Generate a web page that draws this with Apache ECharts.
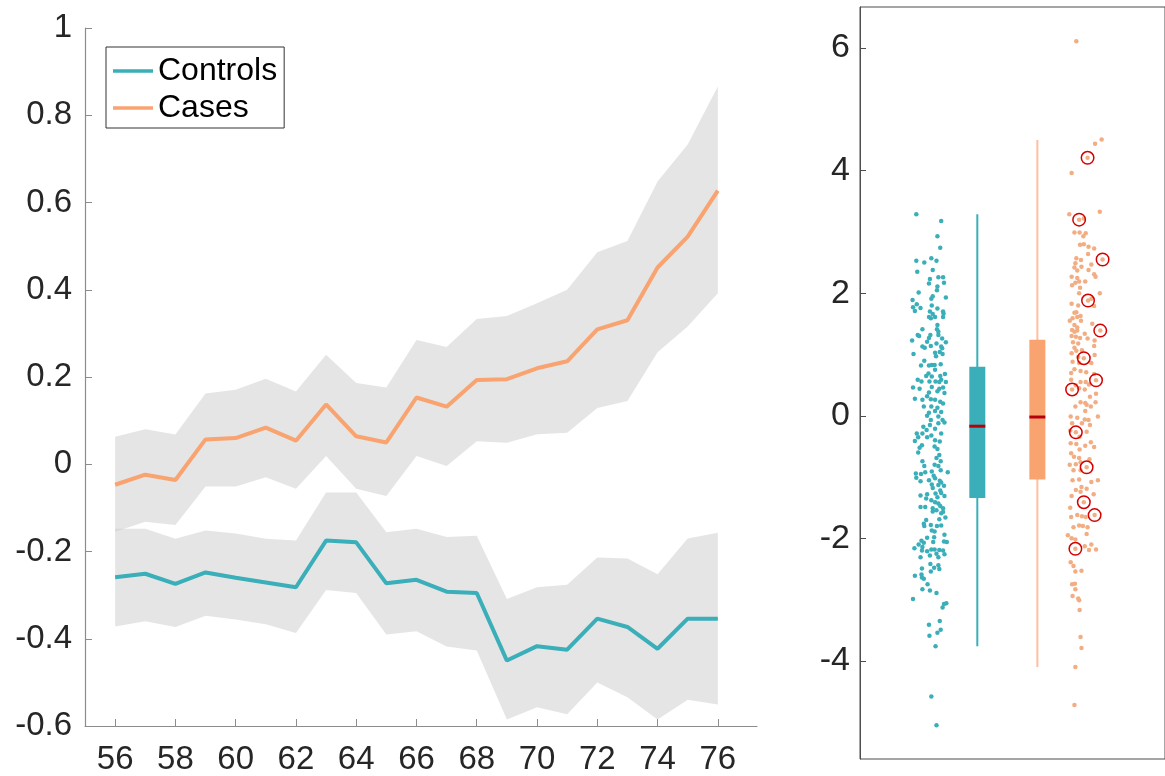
<!DOCTYPE html>
<html>
<head>
<meta charset="utf-8">
<script src="https://cdn.jsdelivr.net/npm/echarts@6/dist/echarts.min.js"></script>
<style>
  html, body { margin: 0; padding: 0; background: #fff; }
  #main { width: 1165px; height: 776px; }
</style>
</head>
<body>
<div id="main"></div>
<script>
// left panel: yearly means with confidence band
var years = [56, 57, 58, 59, 60, 61, 62, 63, 64, 65, 66, 67, 68, 69, 70, 71, 72, 73, 74, 75, 76];
var ctrlMean  = [-0.259, -0.251, -0.274, -0.248, -0.260, -0.271, -0.282, -0.175, -0.179, -0.273, -0.265, -0.292, -0.295, -0.450, -0.417, -0.425, -0.354, -0.373, -0.423, -0.354, -0.354];
var ctrlUpper = [-0.148, -0.148, -0.171, -0.152, -0.159, -0.171, -0.175, -0.065, -0.065, -0.156, -0.148, -0.167, -0.164, -0.309, -0.282, -0.276, -0.214, -0.216, -0.252, -0.170, -0.157];
var ctrlLower = [-0.372, -0.360, -0.373, -0.347, -0.356, -0.367, -0.387, -0.288, -0.295, -0.390, -0.383, -0.418, -0.427, -0.585, -0.557, -0.573, -0.500, -0.534, -0.585, -0.540, -0.551];
var caseMean  = [-0.047, -0.024, -0.036, 0.057, 0.060, 0.084, 0.054, 0.137, 0.064, 0.050, 0.153, 0.132, 0.193, 0.195, 0.220, 0.236, 0.309, 0.330, 0.451, 0.522, 0.627];
var caseUpper = [0.063, 0.080, 0.068, 0.162, 0.171, 0.196, 0.167, 0.251, 0.186, 0.176, 0.285, 0.269, 0.333, 0.340, 0.369, 0.400, 0.486, 0.512, 0.648, 0.733, 0.866];
var caseLower = [-0.155, -0.132, -0.139, -0.051, -0.051, -0.030, -0.056, 0.019, -0.056, -0.073, 0.019, -0.004, 0.053, 0.049, 0.069, 0.072, 0.129, 0.145, 0.257, 0.316, 0.392];
var yearTicks = [56, 58, 60, 62, 64, 66, 68, 70, 72, 74, 76];
var leftTicks = [-0.6, -0.4, -0.2, 0, 0.2, 0.4, 0.6, 0.8, 1];

// right panel: individual scores [jitter, score]
var ctrlPoints = [
  [-0.30,3.29],[0.23,3.18],[0.15,2.93],[0.21,2.74],[0.02,2.57],[-0.30,2.53],[-0.13,2.50],[0.13,2.53],
  [0.05,2.38],[-0.28,2.35],[0.17,2.26],[0.27,2.26],[-0.01,2.23],[0.29,2.17],[-0.03,2.16],[0.15,2.11],
  [0.14,2.05],[-0.25,2.01],[0.05,1.95],[0.33,1.93],[0.02,1.91],[-0.38,1.89],[-0.29,1.82],[-0.37,1.77],
  [-0.21,1.76],[-0.33,1.71],[0.03,1.80],[0.15,1.75],[-0.01,1.70],[0.27,1.70],[0.28,1.67],[0.05,1.66],
  [-0.03,1.61],[0.10,1.61],[0.27,1.61],[0.01,1.59],[0.15,1.48],[0.14,1.41],[-0.17,1.41],[0.17,1.37],
  [0.17,1.32],[-0.27,1.32],[-0.24,1.30],[0.00,1.32],[0.25,1.26],[-0.39,1.23],[-0.03,1.27],[-0.07,1.21],
  [0.13,1.18],[0.33,1.20],[0.23,1.13],[-0.17,1.13],[-0.12,1.11],[0.01,1.14],[0.25,1.10],[0.10,1.03],
  [0.20,1.04],[-0.36,1.01],[0.26,1.01],[0.12,0.97],[-0.13,0.90],[0.03,0.83],[0.09,0.83],[-0.20,0.82],
  [-0.03,0.82],[0.22,0.84],[0.10,0.75],[-0.04,0.69],[0.31,0.68],[-0.09,0.65],[0.21,0.65],[0.03,0.64],
  [-0.27,0.59],[0.23,0.59],[-0.19,0.56],[-0.02,0.56],[0.11,0.56],[0.19,0.55],[0.33,0.55],[-0.37,0.46],
  [-0.23,0.44],[0.03,0.47],[0.19,0.44],[0.27,0.46],[-0.03,0.38],[0.15,0.40],[0.30,0.37],[-0.33,0.28],
  [-0.07,0.32],[0.01,0.27],[-0.17,0.26],[0.10,0.26],[0.21,0.23],[0.27,0.20],[-0.14,0.15],[0.02,0.15],
  [0.15,0.13],[-0.03,0.05],[0.10,0.08],[0.23,0.06],[-0.07,0.00],[0.17,-0.01],[0.01,-0.07],[0.26,-0.07],
  [0.30,-0.11],[-0.15,-0.18],[0.17,-0.12],[-0.01,-0.15],[0.10,-0.21],[-0.08,-0.23],[-0.29,-0.29],[-0.17,-0.29],
  [0.23,-0.29],[0.02,-0.32],[-0.26,-0.35],[-0.07,-0.35],[-0.33,-0.41],[0.10,-0.40],[0.20,-0.42],[-0.18,-0.48],
  [-0.23,-0.52],[0.09,-0.50],[0.15,-0.54],[-0.26,-0.60],[0.19,-0.64],[0.13,-0.69],[0.22,-0.74],[-0.17,-0.74],
  [0.17,-0.82],[0.09,-0.80],[-0.13,-0.82],
  [-0.31,-0.94],[-0.20,-0.95],[-0.11,-0.92],[0.03,-0.91],[0.22,-0.89],[0.37,-0.92],[-0.30,-1.01],[0.07,-0.98],
  [0.10,-1.02],[-0.21,-1.07],[-0.03,-1.05],[0.20,-1.06],[0.23,-1.09],[0.03,-1.12],[0.17,-1.13],[0.29,-1.14],
  [0.05,-1.18],[0.21,-1.22],[0.11,-1.27],[0.23,-1.26],[-0.21,-1.30],[-0.07,-1.28],[0.30,-1.31],[0.15,-1.33],
  [-0.09,-1.35],[0.02,-1.38],[0.10,-1.41],[0.17,-1.43],[0.21,-1.47],[-0.21,-1.49],[-0.11,-1.49],[0.05,-1.51],
  [0.27,-1.51],[0.13,-1.54],[0.27,-1.57],[0.05,-1.56],[0.23,-1.59],[0.32,-1.66],[0.19,-1.69],[-0.09,-1.70],
  [-0.14,-1.76],[0.01,-1.78],[0.14,-1.80],[0.23,-1.79],[-0.13,-1.80],[0.03,-1.87],[0.09,-1.89],[0.30,-1.94],
  [0.08,-1.98],[-0.07,-1.99],[-0.19,-2.04],[-0.14,-2.07],[0.29,-2.05],[0.35,-2.06],[-0.25,-2.10],[0.06,-2.06],
  [-0.17,-2.14],[-0.34,-2.16],[0.02,-2.18],[0.09,-2.18],[0.19,-2.19],[0.27,-2.20],[-0.18,-2.20],[-0.07,-2.21],
  [0.13,-2.25],[0.30,-2.26],[-0.01,-2.28],[-0.21,-2.31],[0.17,-2.31],[0.00,-2.42],[0.17,-2.44],[0.08,-2.48],
  [0.19,-2.50],[-0.18,-2.49],[0.01,-2.54],[-0.33,-2.61],[-0.19,-2.59],[-0.18,-2.64],[-0.14,-2.66],[-0.06,-2.75],
  [-0.17,-2.83],[-0.01,-2.85],[0.13,-2.89],[-0.37,-2.99],[0.34,-3.06],[0.29,-3.07],[0.26,-3.13],[-0.03,-3.41],
  [0.20,-3.35],[0.22,-3.49],[0.15,-3.54],[-0.02,-3.59],[0.11,-3.76],[0.02,-4.58],[0.13,-5.05]
];
var casePoints = [
  [-0.19,6.11],[0.35,4.51],[0.21,4.44],[0.05,4.21],[-0.29,3.96],[-0.34,3.29],[0.31,3.33],[-0.13,3.20],
  [-0.03,3.22],[-0.23,2.99],[-0.12,2.99],[0.01,2.98],[-0.04,2.93],[-0.11,2.79],[-0.03,2.80],[0.07,2.76],
  [0.19,2.73],[0.06,2.64],[-0.19,2.57],[-0.09,2.54],[0.37,2.55],[-0.21,2.49],[-0.23,2.42],[-0.08,2.43],
  [-0.17,2.37],[0.07,2.38],[0.13,2.47],[0.19,2.31],[0.22,2.27],[-0.29,2.27],[-0.17,2.25],[-0.21,2.17],
  [-0.13,2.19],[0.00,2.19],[-0.28,2.13],[-0.11,2.09],[-0.13,2.00],[0.31,2.00],[0.06,1.88],[0.13,1.91],
  [-0.29,1.83],[-0.15,1.80],[0.19,1.79],[-0.19,1.69],[-0.23,1.68],[-0.10,1.63],[-0.27,1.59],[-0.17,1.61],
  [-0.33,1.55],[-0.09,1.55],[-0.23,1.48],[-0.17,1.44],[-0.28,1.40],[0.15,1.50],[0.32,1.39],[-0.23,1.37],
  [-0.17,1.39],[-0.01,1.34],[-0.29,1.30],[-0.20,1.29],[-0.11,1.27],[0.05,1.26],[-0.26,1.20],[-0.15,1.18],
  [0.20,1.23],[0.19,1.14],[-0.23,1.11],[-0.19,1.06],[-0.07,1.07],[-0.29,1.02],[-0.03,0.94],[0.20,0.99],
  [-0.15,0.96],[-0.27,0.88],[-0.13,0.86],[0.13,0.86],[-0.23,0.76],[-0.10,0.73],[0.02,0.71],[-0.30,0.70],
  [0.19,0.68],[-0.30,0.59],[0.23,0.58],[-0.10,0.55],[0.01,0.55],[-0.20,0.50],[0.08,0.51],[-0.28,0.43],
  [-0.13,0.45],[-0.01,0.43],[0.23,0.36],[0.10,0.31],
  [-0.10,0.22],[0.00,0.21],[0.03,0.18],[0.12,0.15],[0.22,0.22],[-0.21,0.15],[0.00,0.08],[0.27,-0.01],
  [-0.31,-0.01],[-0.01,-0.06],[-0.17,-0.03],[0.07,-0.07],[-0.28,-0.12],[-0.07,-0.12],[0.10,-0.15],[-0.20,-0.27],
  [0.03,-0.26],[-0.32,-0.24],[-0.12,-0.34],[0.12,-0.43],[-0.31,-0.45],[-0.19,-0.46],[0.00,-0.49],[0.19,-0.51],
  [-0.12,-0.55],[-0.30,-0.61],[-0.24,-0.67],[-0.13,-0.69],[0.09,-0.71],[-0.33,-0.80],[-0.20,-0.79],[-0.10,-0.76],
  [0.03,-0.84],[-0.25,-0.89],[-0.10,-0.89],[0.27,-1.05],[0.13,-1.08],[-0.27,-1.05],[-0.13,-1.04],[-0.08,-1.16],
  [0.03,-1.19],[-0.20,-1.21],[-0.10,-1.24],[0.18,-1.28],[-0.29,-1.31],[-0.03,-1.41],[0.20,-1.62],[-0.32,-1.50],
  [-0.30,-1.65],[-0.17,-1.62],[-0.07,-1.64],[0.01,-1.65],[-0.25,-1.82],[-0.13,-1.79],[-0.05,-1.80],[0.05,-1.82],
  [-0.37,-1.95],[0.03,-1.93],[-0.29,-2.00],[-0.21,-2.02],[0.13,-2.10],[0.23,-2.18],[-0.21,-2.17],[-0.01,-2.13],
  [0.08,-2.19],[-0.31,-2.39],[-0.25,-2.45],[-0.21,-2.54],[-0.08,-2.53],[-0.28,-2.75],[-0.22,-2.74],[-0.21,-2.83],
  [-0.27,-2.94],[-0.15,-2.98],[-0.13,-3.01],[-0.12,-3.17],[-0.10,-3.61],[-0.08,-3.79],[-0.21,-4.10],[-0.23,-4.72]
];
// cases marked with red circles
var caseFlagged = [
  [0.05,4.21],[-0.13,3.20],[0.37,2.55],[0.06,1.88],[0.32,1.39],[-0.03,0.94],[0.23,0.58],
  [-0.28,0.43],[-0.20,-0.27],[0.03,-0.84],[-0.03,-1.41],[0.20,-1.62],[-0.21,-2.17]
];
// [low whisker, q1, median, q3, high whisker]
var ctrlBox = [-3.76, -1.34, -0.17, 0.80, 3.29];
var caseBox = [-4.10, -1.04, -0.02, 1.24, 4.50];
var rightTicks = [-4, -2, 0, 2, 4, 6];

var TEAL = '#3aafb9';
var ORANGE = '#f9a470';
var DOT_ORANGE = '#f3ad82';
var FONT = '"Liberation Sans", Arial, Helvetica, sans-serif';

function pairs(xs, ys) {
    return xs.map(function (x, i) { return [x, ys[i]]; });
}
function jitter(points, center) {
    return points.map(function (p) { return [center + p[0], p[1]]; });
}

// shaded band drawn as one polygon through the axis scale
function bandSeries(lower, upper) {
    return {
        type: 'custom', xAxisIndex: 0, yAxisIndex: 0, z: 1, silent: true,
        data: years.map(function (y, i) { return [y, lower[i], upper[i]]; }),
        renderItem: function (params, api) {
            if (params.dataIndexInside !== 0) return null;
            var n = params.dataInsideLength;
            var top = [], bot = [];
            for (var i = 0; i < n; i++) {
                var x = api.value(0, i);
                top.push(api.coord([x, api.value(2, i)]));
                bot.push(api.coord([x, api.value(1, i)]));
            }
            return {
                type: 'polygon',
                shape: { points: top.concat(bot.reverse()) },
                style: { fill: '#cccccc', opacity: 0.5 }
            };
        }
    };
}

function boxSeries(center, stats, fill, whisker) {
    return {
        type: 'custom', xAxisIndex: 1, yAxisIndex: 1, z: 3,
        data: [[center].concat(stats)],
        renderItem: function (params, api) {
            var x = api.value(0);
            var lo = api.coord([x, api.value(1)]);
            var q1 = api.coord([x, api.value(2)]);
            var md = api.coord([x, api.value(3)]);
            var q3 = api.coord([x, api.value(4)]);
            var hi = api.coord([x, api.value(5)]);
            var half = 8;
            return {
                type: 'group',
                children: [
                    { type: 'line', shape: { x1: lo[0], y1: lo[1], x2: hi[0], y2: hi[1] },
                      style: { stroke: whisker, lineWidth: 2 } },
                    { type: 'rect', shape: { x: q3[0] - half, y: q3[1], width: half * 2, height: q1[1] - q3[1] },
                      style: { fill: fill } },
                    { type: 'line', shape: { x1: md[0] - half, y1: md[1], x2: md[0] + half, y2: md[1] },
                      style: { stroke: '#b8000c', lineWidth: 3 } }
                ]
            };
        }
    };
}

var chart = echarts.init(document.getElementById('main'));
var option = {
    animation: false,
    textStyle: { fontFamily: FONT },
    legend: {
        data: ['Controls', 'Cases'],
        orient: 'vertical',
        left: 106, top: 47,
        padding: [8, 7, 4, 7],
        itemGap: 5,
        itemWidth: 40,
        itemHeight: 3.5,
        icon: 'rect',
        backgroundColor: '#fff',
        borderColor: '#333',
        borderWidth: 1,
        borderRadius: 0,
        textStyle: { fontSize: 32, color: '#000', fontFamily: FONT }
    },
    grid: [
        { left: 85, top: 28, width: 672, height: 700 },
        { left: 860, top: 7, width: 325, height: 752, show: true, borderColor: '#4d4d4d', borderWidth: 1 }
    ],
    xAxis: [{
        type: 'value', gridIndex: 0, min: 55, max: 77.3,
        splitLine: { show: false },
        axisLine: { show: true, onZero: false, lineStyle: { color: '#8c8c8c', width: 1.2 } },
        axisTick: { show: true, inside: true, length: 7, customValues: yearTicks, lineStyle: { color: '#8c8c8c' } },
        axisLabel: { customValues: yearTicks, fontSize: 33, color: '#262626', margin: 17, fontFamily: FONT }
    }, {
        type: 'value', gridIndex: 1, min: 0, max: 6.5,
        splitLine: { show: false },
        axisLine: { show: false },
        axisTick: { show: false },
        axisLabel: { show: false }
    }],
    yAxis: [{
        type: 'value', gridIndex: 0, min: -0.6, max: 1,
        splitLine: { show: false },
        axisLine: { show: true, onZero: false, lineStyle: { color: '#8c8c8c', width: 1.2 } },
        axisTick: { show: true, inside: true, length: 7, customValues: leftTicks, lineStyle: { color: '#8c8c8c' } },
        axisLabel: { customValues: leftTicks, fontSize: 33, color: '#262626', margin: 13, fontFamily: FONT }
    }, {
        type: 'value', gridIndex: 1, min: -5.6, max: 6.67,
        splitLine: { show: false },
        axisLine: { show: true, onZero: false, lineStyle: { color: '#4d4d4d' } },
        axisTick: { show: true, inside: true, length: 6, customValues: rightTicks, lineStyle: { color: '#4d4d4d' } },
        axisLabel: { customValues: rightTicks, fontSize: 34, color: '#262626', margin: 10, fontFamily: FONT }
    }],
    series: [
        bandSeries(ctrlLower, ctrlUpper),
        bandSeries(caseLower, caseUpper),
        {
            type: 'line', name: 'Controls', data: pairs(years, ctrlMean),
            symbol: 'none', color: TEAL, lineStyle: { color: TEAL, width: 4 }, z: 3
        }, {
            type: 'line', name: 'Cases', data: pairs(years, caseMean),
            symbol: 'none', color: ORANGE, lineStyle: { color: ORANGE, width: 4 }, z: 3
        }, {
            type: 'scatter', name: 'ctrlDots', xAxisIndex: 1, yAxisIndex: 1,
            data: jitter(ctrlPoints, 1.5), symbolSize: 4.5,
            itemStyle: { color: TEAL, opacity: 1 }, z: 2
        }, {
            type: 'scatter', name: 'caseDots', xAxisIndex: 1, yAxisIndex: 1,
            data: jitter(casePoints, 4.8), symbolSize: 4.5,
            itemStyle: { color: DOT_ORANGE, opacity: 1 }, z: 2
        }, {
            type: 'scatter', name: 'flagged', xAxisIndex: 1, yAxisIndex: 1,
            data: jitter(caseFlagged, 4.8), symbolSize: 12.5,
            itemStyle: { color: 'transparent', borderColor: '#d40000', borderWidth: 1.5, opacity: 1 }, z: 4
        },
        boxSeries(2.5, ctrlBox, TEAL, TEAL),
        boxSeries(3.78, caseBox, ORANGE, '#fdbf9d')
    ]
};
chart.setOption(option);
</script>
</body>
</html>
